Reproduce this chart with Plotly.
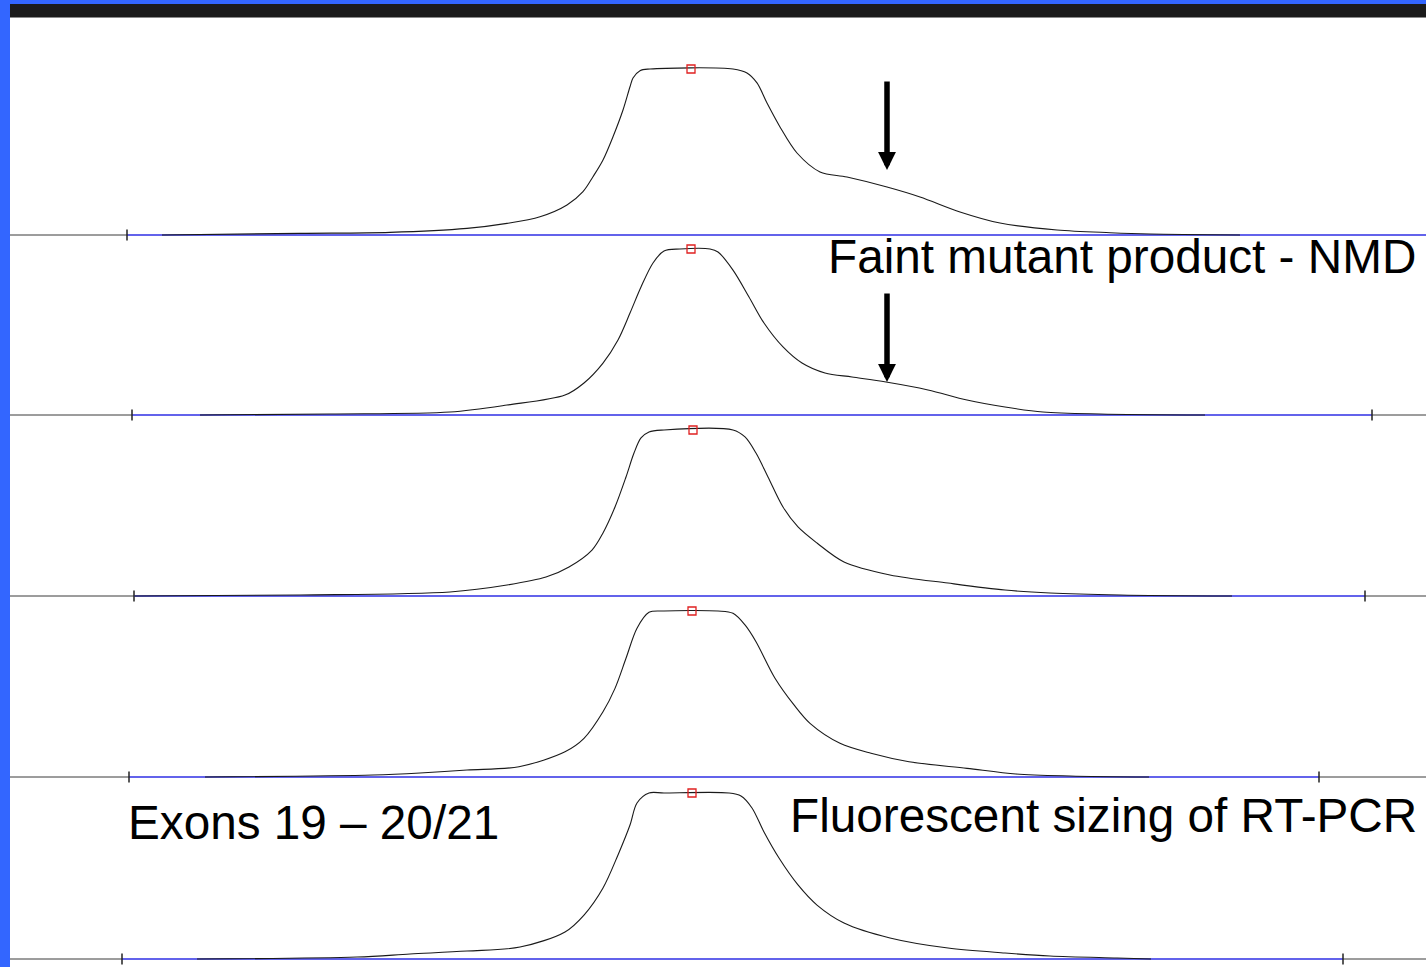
import plotly.graph_objects as go

# ---------------- data (scan position, RFU) ----------------
lane1_x = [152, 290, 380, 457, 497, 530, 557, 573, 583, 593, 603, 613, 620, 623, 630, 640,
           723, 737, 747, 757, 770, 787, 810, 837, 877, 910, 950, 990, 1047, 1100, 1140, 1230]
lane1_y = [0, 10, 16, 40, 70, 110, 181, 261, 351, 452, 592, 753, 893, 946, 990, 1000,
           1000, 976, 916, 795, 651, 494, 380, 349, 289, 229, 139, 72, 30, 14, 6, 0]

lane2_x = [190, 320, 440, 497, 555, 574, 593, 608, 620, 631, 643, 654, 670, 700, 708, 723,
           739, 754, 773, 792, 815, 842, 876, 918, 957, 995, 1033, 1090, 1195]
lane2_y = [0, 6, 18, 60, 120, 193, 313, 452, 614, 771, 916, 988, 1000, 1000, 982, 873,
           711, 554, 410, 313, 253, 229, 199, 151, 90, 48, 18, 6, 0]

lane3_x = [125, 290, 440, 497, 536, 559, 582, 593, 605, 616, 624, 631, 639, 654, 723, 735,
           746, 758, 773, 788, 807, 834, 880, 938, 995, 1040, 1110, 1222]
lane3_y = [0, 6, 24, 66, 114, 175, 277, 380, 536, 717, 861, 952, 988, 1000, 1000, 958,
           861, 717, 536, 416, 319, 205, 127, 78, 36, 18, 6, 0]

lane4_x = [195, 363, 410, 457, 509, 555, 574, 593, 605, 616, 627, 639, 654, 708, 723, 735,
           746, 765, 784, 800, 830, 861, 899, 957, 1006, 1060, 1139]
lane4_y = [0, 12, 24, 42, 62, 152, 233, 393, 534, 715, 896, 992, 1000, 1000, 986, 916,
           815, 595, 434, 323, 203, 143, 92, 52, 18, 6, 0]

lane5_x = [187, 347, 400, 457, 510, 555, 574, 593, 608, 620, 627, 639, 654, 719, 731, 742,
           754, 769, 788, 807, 834, 880, 938, 995, 1040, 1107, 1141]
lane5_y = [0, 12, 30, 48, 72, 163, 265, 428, 627, 807, 940, 1000, 1000, 1000, 982, 910,
           765, 608, 446, 325, 217, 127, 66, 36, 18, 6, 0]

# apex (peak call) markers
apex_x = [681, 681, 683, 682, 682]
apex_y = [1000, 1000, 1000, 1000, 1000]

# sizing window start / end ticks (None = beyond view)
left_tick = [117, 122, 124, 119, 112]
right_tick = [None, 1362, 1355, 1309, 1333]

# arrows marking the faint mutant product (lanes 1 and 2)
arrow_lane = [1, 2]
arrow_x = [877, 877]
arrow_y = [392, 199]

label_faint = "Faint mutant product - NMD"
label_exons = "Exons 19 – 20/21"
label_method = "Fluorescent sizing of RT-PCR"

# ---------------- layout constants ----------------
W, H = 1426, 967
X_MAX = 1416
PX_PER_RFU = 166 / 1000.0
base_px = [235, 415, 596, 777, 959]
left_px = 10
BLUE = "#3366ff"
FONT = "Liberation Sans, Arial, sans-serif"

lanes = [(lane1_x, lane1_y), (lane2_x, lane2_y), (lane3_x, lane3_y),
         (lane4_x, lane4_y), (lane5_x, lane5_y)]

fig = go.Figure()
layout_axes = {}

for i, ((xs, ys), b) in enumerate(zip(lanes, base_px)):
    n = i + 1
    xa = "x" if n == 1 else f"x{n}"
    ya = "y" if n == 1 else f"y{n}"
    lt, rt = left_tick[i], right_tick[i]
    common = dict(xaxis=xa, yaxis=ya, hoverinfo="skip", showlegend=False)

    # black baseline outside the sizing window
    if rt is not None:
        bx, by = [0, lt, None, rt, X_MAX], [0, 0, None, 0, 0]
    else:
        bx, by = [0, lt], [0, 0]
    fig.add_trace(go.Scatter(x=bx, y=by, mode="lines",
                             line=dict(color="#3a3a3a", width=1), **common))
    # blue baseline inside the sizing window
    fig.add_trace(go.Scatter(x=[lt, rt if rt is not None else X_MAX], y=[0, 0],
                             mode="lines", line=dict(color="#2f2fe4", width=1.3), **common))
    # electropherogram trace
    fig.add_trace(go.Scatter(x=xs, y=ys, mode="lines",
                             line=dict(color="#1a1a1a", width=1.1, shape="spline", smoothing=0.9),
                             **common))
    # window ticks
    tx = [lt] + ([rt] if rt is not None else [])
    fig.add_trace(go.Scatter(x=tx, y=[0] * len(tx), mode="markers", cliponaxis=False,
                             marker=dict(symbol="line-ns", size=8,
                                         line=dict(color="#222222", width=1.5)), **common))
    # apex marker
    fig.add_trace(go.Scatter(x=[apex_x[i]], y=[apex_y[i]], mode="markers", cliponaxis=False,
                             marker=dict(symbol="square-open", size=8, color="#e02020",
                                         line=dict(width=1.3, color="#e02020")), **common))

    key = "" if n == 1 else str(n)
    layout_axes[f"xaxis{key}"] = dict(domain=[left_px / W, 1], range=[0, X_MAX], visible=False,
                                      anchor=ya, fixedrange=True)
    layout_axes[f"yaxis{key}"] = dict(domain=[1 - (b + 6) / H, 1 - (b - 172) / H],
                                      range=[-6 / PX_PER_RFU, 172 / PX_PER_RFU],
                                      visible=False, anchor=xa, fixedrange=True)

annotations = []
for lane, ax_x, ax_y in zip(arrow_lane, arrow_x, arrow_y):
    annotations.append(dict(x=ax_x, y=ax_y, xref="x" if lane == 1 else f"x{lane}",
                            yref="y" if lane == 1 else f"y{lane}", text="",
                            showarrow=True, ax=0, ay=-90, arrowhead=2, arrowsize=0.65,
                            arrowwidth=5.5, arrowcolor="black", standoff=0))

def fx(px):
    return px / W

def fy(py):
    return 1 - py / H

txt_font = dict(family=FONT, size=47.7, color="black")
annotations += [
    dict(x=fx(826), y=fy(256), xref="paper", yref="paper", text=label_faint, showarrow=False,
         xanchor="left", yanchor="middle", font=txt_font),
    dict(x=fx(126), y=fy(822), xref="paper", yref="paper", text=label_exons, showarrow=False,
         xanchor="left", yanchor="middle", font=txt_font),
    dict(x=fx(788), y=fy(815), xref="paper", yref="paper", text=label_method, showarrow=False,
         xanchor="left", yanchor="middle", font=txt_font),
]

shapes = [
    dict(type="rect", xref="paper", yref="paper", x0=0, x1=1, y0=fy(18), y1=1,
         fillcolor="#1b1b1b", line=dict(width=0), layer="above"),
    dict(type="rect", xref="paper", yref="paper", x0=0, x1=1, y0=fy(4), y1=1,
         fillcolor=BLUE, line=dict(width=0), layer="above"),
    dict(type="line", xref="paper", yref="paper", x0=0, x1=1, y0=fy(17.5), y1=fy(17.5),
         line=dict(color="#8a8a8a", width=1), layer="above"),
    dict(type="rect", xref="paper", yref="paper", x0=0, x1=fx(left_px), y0=0, y1=1,
         fillcolor=BLUE, line=dict(width=0), layer="above"),
]

fig.update_layout(
    width=W, height=H, autosize=False,
    margin=dict(l=0, r=0, t=0, b=0, pad=0),
    paper_bgcolor="white", plot_bgcolor="white",
    showlegend=False, annotations=annotations, shapes=shapes,
    **layout_axes,
)

fig.write_html("out.html", config={"displayModeBar": False, "responsive": False})
